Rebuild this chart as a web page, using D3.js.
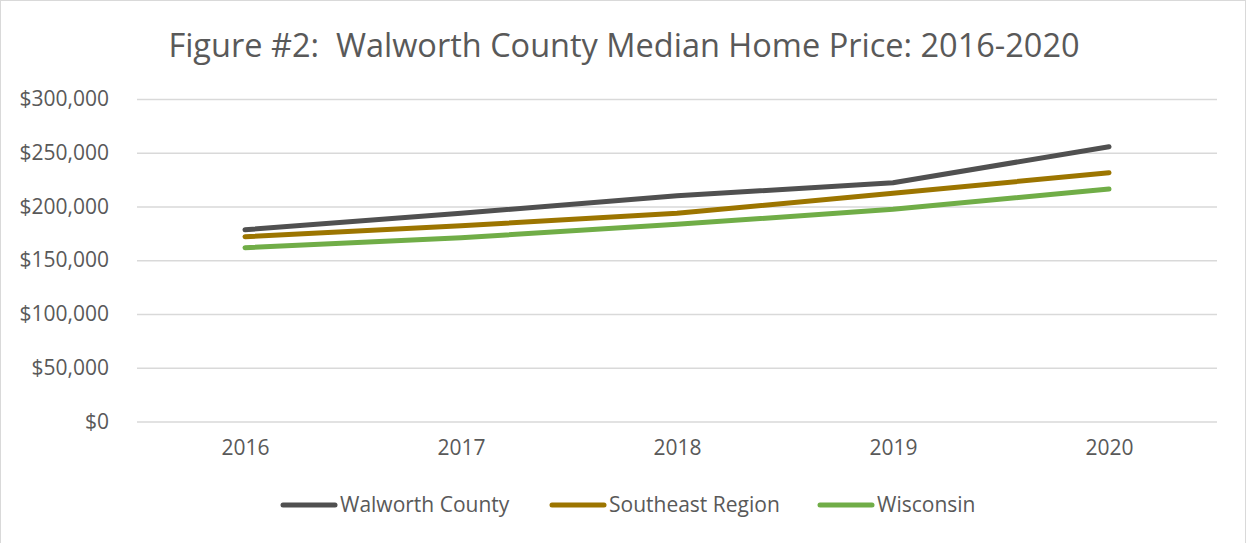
<!DOCTYPE html>
<html>
<head>
<meta charset="utf-8">
<script src="https://cdn.jsdelivr.net/npm/d3@7"></script>
<style>
  body { margin: 0; background: #fff; }
  text { font-family: "Open Sans", sans-serif; fill: #595959; white-space: pre; }
</style>
</head>
<body>
<div id="target"></div>
<script>
// chart values
let years = ["2016", "2017", "2018", "2019", "2020"]
let walworth = [178400, 193700, 210000, 222100, 255600]
let southeast = [171900, 182100, 193700, 212300, 231400]
let wisconsin = [161700, 171000, 183400, 197400, 216300]
let yTicks = [0, 50000, 100000, 150000, 200000, 250000, 300000]
let seriesNames = ["Walworth County", "Southeast Region", "Wisconsin"]
let seriesColors = ["#505050", "#9c7500", "#70ad47"]

let width = 1247,
  height = 543,
  margin = {
    top: 99,
    right: 30,
    bottom: 121.5,
    left: 137
  }
let plotW = width - margin.left - margin.right,
  plotH = height - margin.top - margin.bottom

let series = [walworth, southeast, wisconsin].map((vals, i) => ({
  name: seriesNames[i],
  color: seriesColors[i],
  values: vals
}))

let svg = d3.select("#target").append("svg")
  .attr("width", width)
  .attr("height", height)

// outer chart border
svg.append("rect")
  .attr("x", 0.5)
  .attr("y", 0.5)
  .attr("width", width - 2)
  .attr("height", height + 5)
  .attr("fill", "none")
  .attr("stroke", "#d9d9d9")

svg.append("text")
  .attr("x", 624)
  .attr("y", 57)
  .attr("text-anchor", "middle")
  .style("font-size", "32.5px")
  .text("Figure #2:  Walworth County Median Home Price: 2016-2020")

let g = svg.append("g")
  .attr("transform", "translate(" + margin.left + "," + margin.top + ")")

let x = d3.scalePoint()
  .domain(years)
  .range([0, plotW])
  .padding(0.5)

let y = d3.scaleLinear()
  .domain([0, 300000])
  .range([plotH, 0])

// gridlines
let yAxis = d3.axisLeft(y)
  .tickValues(yTicks)
  .tickSize(-plotW)
  .tickPadding(28)
  .tickFormat(d => "$" + d3.format(",")(d))

g.append("g")
  .attr("class", "y axis")
  .call(yAxis)
  .call(a => a.select(".domain").remove())
  .call(a => a.selectAll("line").attr("stroke", "#d9d9d9").attr("stroke-width", 1.3))
  .call(a => a.selectAll("text").style("font-size", "21px").attr("fill", "#595959"))

let xAxis = d3.axisBottom(x)
  .tickSize(0)
  .tickPadding(19)

g.append("g")
  .attr("class", "x axis")
  .attr("transform", "translate(0," + plotH + ")")
  .call(xAxis)
  .call(a => a.select(".domain").remove())
  .call(a => a.selectAll("text").style("font-size", "21px").attr("fill", "#595959"))

let line = d3.line()
  .x((d, i) => x(years[i]))
  .y(d => y(d))

g.selectAll(".series")
  .data(series)
  .enter().append("path")
  .attr("class", "series")
  .attr("d", d => line(d.values))
  .attr("fill", "none")
  .attr("stroke", d => d.color)
  .attr("stroke-width", 5)
  .attr("stroke-linecap", "round")
  .attr("stroke-linejoin", "round")

// legend
let legendX = [281, 550, 818]
let legend = svg.selectAll(".legend")
  .data(series)
  .enter().append("g")
  .attr("class", "legend")
  .attr("transform", (d, i) => "translate(" + legendX[i] + ",505)")

legend.append("line")
  .attr("x1", 2)
  .attr("x2", 54)
  .attr("stroke", d => d.color)
  .attr("stroke-width", 5)
  .attr("stroke-linecap", "round")

legend.append("text")
  .attr("x", 59)
  .attr("dy", "0.35em")
  .style("font-size", "21px")
  .text(d => d.name)
</script>
</body>
</html>
